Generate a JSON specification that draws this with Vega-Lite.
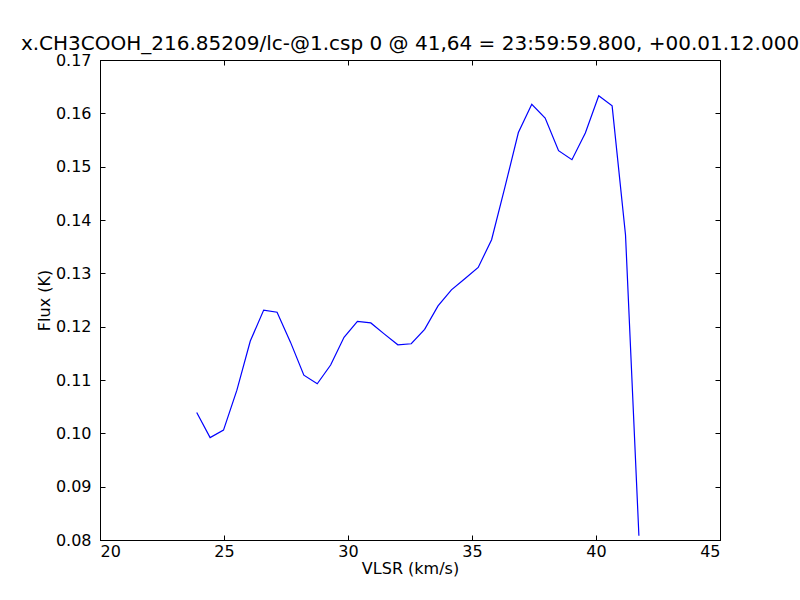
{
  "$schema": "https://vega.github.io/schema/vega-lite/v6.json",
  "autosize": "none",
  "width": 620,
  "height": 480,
  "padding": {"left": 100, "top": 60, "right": 80, "bottom": 60},
  "background": "white",
  "title": {
    "text": "x.CH3COOH_216.85209/lc-@1.csp 0 @ 41,64 = 23:59:59.800, +00.01.12.000",
    "font": "DejaVu Sans",
    "fontSize": 20,
    "fontWeight": "normal",
    "color": "black",
    "anchor": "middle",
    "baseline": "alphabetic",
    "offset": -18
  },
  "config": {
    "view": {"stroke": "black", "strokeWidth": 1},
    "axis": {
      "labelFont": "DejaVu Sans",
      "titleFont": "DejaVu Sans",
      "labelFontSize": 16,
      "titleFontSize": 16,
      "titleFontWeight": "normal",
      "labelColor": "black",
      "titleColor": "black",
      "domainColor": "black",
      "tickColor": "black",
      "grid": false,
      "tickSize": -5,
      "labelPadding": 8
    }
  },
  "data": {
    "values": [
      {"v": 23.90, "f": 0.1039},
      {"v": 24.44, "f": 0.0992},
      {"v": 24.98, "f": 0.1006},
      {"v": 25.52, "f": 0.1081},
      {"v": 26.06, "f": 0.1173},
      {"v": 26.60, "f": 0.1231},
      {"v": 27.14, "f": 0.1227},
      {"v": 27.68, "f": 0.1171},
      {"v": 28.22, "f": 0.1109},
      {"v": 28.76, "f": 0.1093},
      {"v": 29.30, "f": 0.1128},
      {"v": 29.84, "f": 0.1180},
      {"v": 30.38, "f": 0.1210},
      {"v": 30.92, "f": 0.1207},
      {"v": 31.47, "f": 0.1186},
      {"v": 32.01, "f": 0.1166},
      {"v": 32.55, "f": 0.1168},
      {"v": 33.09, "f": 0.1195},
      {"v": 33.63, "f": 0.1239},
      {"v": 34.17, "f": 0.1269},
      {"v": 34.71, "f": 0.1290},
      {"v": 35.25, "f": 0.1311},
      {"v": 35.79, "f": 0.1363},
      {"v": 36.33, "f": 0.1462},
      {"v": 36.87, "f": 0.1564},
      {"v": 37.41, "f": 0.1617},
      {"v": 37.95, "f": 0.1591},
      {"v": 38.49, "f": 0.1530},
      {"v": 39.03, "f": 0.1513},
      {"v": 39.57, "f": 0.1563},
      {"v": 40.11, "f": 0.1633},
      {"v": 40.65, "f": 0.1614},
      {"v": 41.19, "f": 0.1372},
      {"v": 41.73, "f": 0.0808}
    ]
  },
  "layer": [
    {
      "mark": {"type": "line", "color": "#0000ff", "strokeWidth": 1.2, "clip": true},
      "encoding": {
        "x": {
          "field": "v", "type": "quantitative",
          "scale": {"domain": [20, 45], "nice": false, "zero": false},
          "axis": {"title": "VLSR (km/s)", "values": [20, 25, 30, 35, 40, 45], "format": "d", "titlePadding": 1}
        },
        "y": {
          "field": "f", "type": "quantitative",
          "scale": {"domain": [0.08, 0.17], "nice": false, "zero": false},
          "axis": {"title": "Flux (K)", "values": [0.08, 0.09, 0.10, 0.11, 0.12, 0.13, 0.14, 0.15, 0.16, 0.17], "format": ".2f", "labelPadding": 14, "titlePadding": 3}
        }
      }
    },
    {
      "mark": {"type": "line", "opacity": 0, "clip": true},
      "encoding": {
        "x": {
          "field": "v", "type": "quantitative",
          "scale": {"domain": [20, 45], "nice": false, "zero": false},
          "axis": {"orient": "top", "title": null, "labels": false, "values": [20, 25, 30, 35, 40, 45]}
        },
        "y": {
          "field": "f", "type": "quantitative",
          "scale": {"domain": [0.08, 0.17], "nice": false, "zero": false},
          "axis": {"orient": "right", "title": null, "labels": false, "values": [0.08, 0.09, 0.10, 0.11, 0.12, 0.13, 0.14, 0.15, 0.16, 0.17]}
        }
      }
    }
  ],
  "resolve": {"axis": {"x": "independent", "y": "independent"}}
}
